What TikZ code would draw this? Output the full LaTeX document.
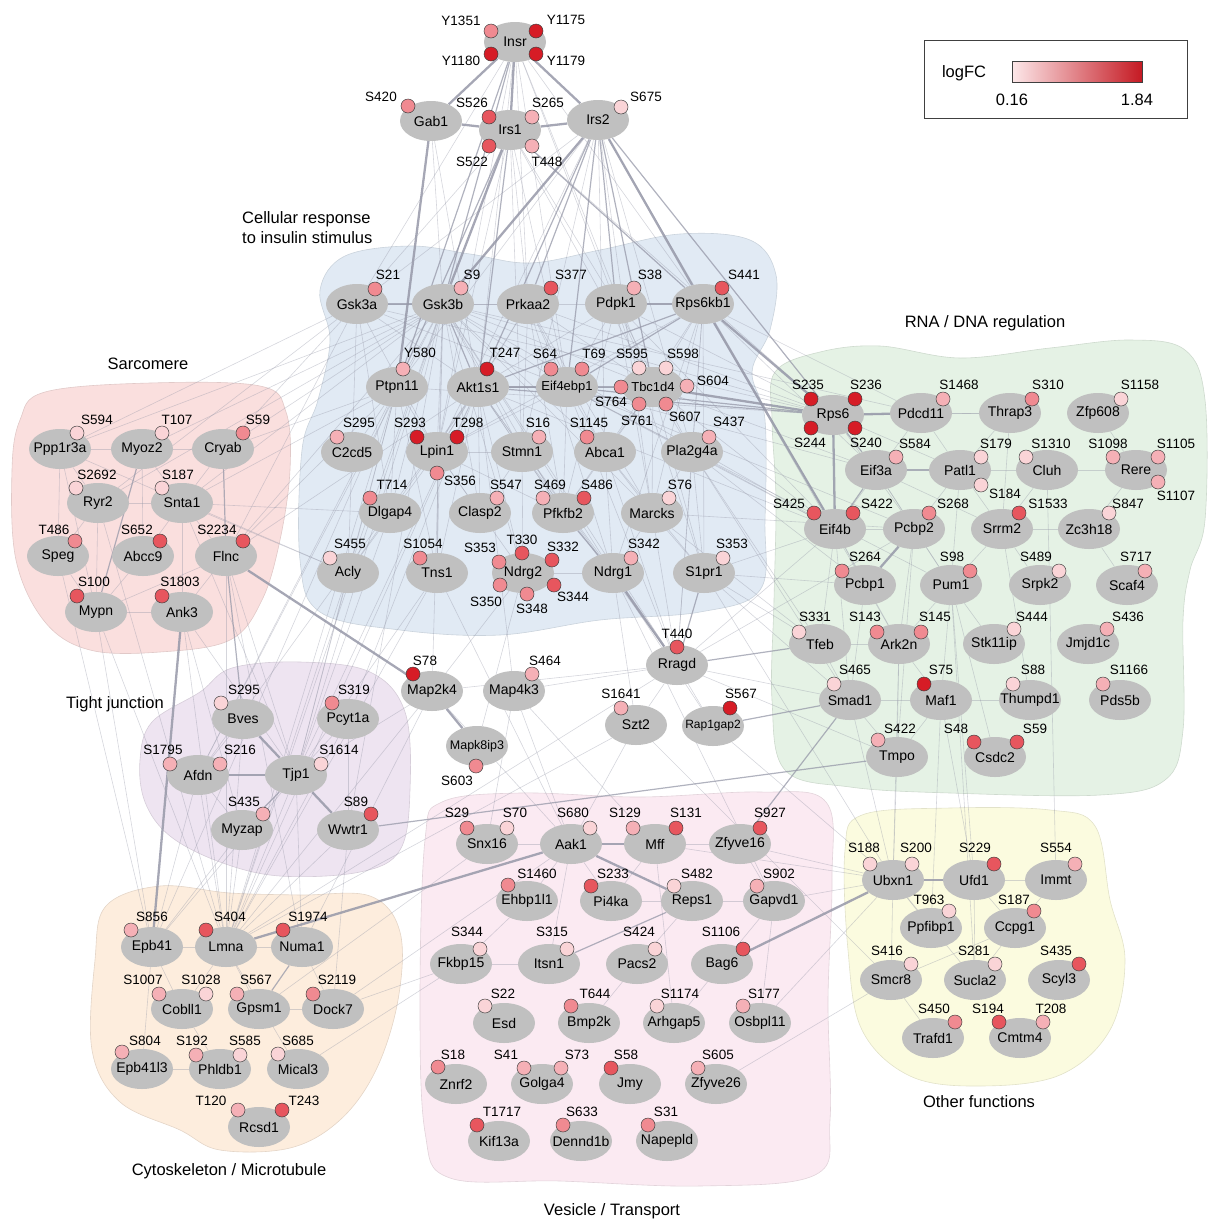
\documentclass[tikz,border=0pt]{standalone}
\usepackage{fontspec}
\setmainfont{Liberation Sans}
\usetikzlibrary{shapes.geometric}
\pgfdeclarelayer{blobs}
\pgfdeclarelayer{edges}
\pgfsetlayers{blobs,edges,main}
\definecolor{pA}{RGB}{250,212,215}
\definecolor{pB}{RGB}{245,176,182}
\definecolor{pC}{RGB}{240,138,145}
\definecolor{pD}{RGB}{231,86,94}
\definecolor{pE}{RGB}{214,28,38}
\definecolor{protgray}{RGB}{192,192,192}
\definecolor{edgec}{RGB}{150,152,168}
\definecolor{blueBg}{RGB}{225,234,244}
\definecolor{greenBg}{RGB}{229,242,229}
\definecolor{redBg}{RGB}{250,223,222}
\definecolor{purpleBg}{RGB}{238,228,241}
\definecolor{orangeBg}{RGB}{253,237,221}
\definecolor{pinkBg}{RGB}{251,234,242}
\definecolor{yellowBg}{RGB}{251,251,223}
\tikzset{
  prot/.style={ellipse, fill=protgray, minimum width=62pt, minimum height=40pt, inner sep=0pt, font=\fontsize{14}{16}\selectfont},
  site/.style={circle, draw=black!75, line width=0.5pt, minimum size=14pt, inner sep=0pt},
  slab/.style={font=\fontsize{13.5}{15}\selectfont, inner sep=0pt},
  ttl/.style={font=\fontsize{16.5}{20}\selectfont, inner sep=0pt},
  ethin/.style={draw=edgec, line width=0.6pt, opacity=0.4},
  emid/.style={draw=edgec, line width=1.2pt, opacity=0.75},
  ethick/.style={draw=edgec, line width=2.3pt, opacity=0.85},
  blob/.style={line width=0.6pt}
}
\newcommand\prt[2]{\node[prot] (#1) at (#2) {\makebox[0pt]{#1}};}
\newcommand\st[5]{\node[site,fill=#3] (#1) at (#2) {}; \node[slab] (#1l) at (#4) {#5};}
\begin{document}
\begin{tikzpicture}[x=1pt,y=-1pt]
\useasboundingbox (0,0) rectangle (1208,1219);
% ---------------- cluster backgrounds
\begin{pgfonlayer}{blobs}
\draw[blob, fill=blueBg, draw=blueBg!90!black] plot[smooth cycle, tension=0.6] coordinates {(320,290) (345,256) (410,246) (470,254) (530,263) (600,250) (680,234) (750,240) (776,275) (770,330) (752,372) (765,420) (765,520) (760,590) (700,612) (600,620) (500,635) (400,630) (320,612) (300,560) (302,450) (318,400) (330,340)};
\draw[blob, fill=greenBg, draw=greenBg!90!black] plot[smooth cycle, tension=0.6] coordinates {(775,372) (820,352) (880,346) (960,358) (1050,348) (1130,340) (1185,350) (1205,400) (1205,520) (1190,570) (1183,620) (1183,730) (1165,780) (1100,795) (950,793) (850,787) (785,770) (772,700) (774,600) (776,500) (772,420)};
\draw[blob, fill=redBg, draw=redBg!90!black] plot[smooth cycle, tension=0.6] coordinates {(20,420) (45,392) (150,383) (260,386) (286,412) (290,470) (280,540) (262,600) (230,640) (160,652) (90,650) (45,622) (16,560) (12,470)};
\draw[blob, fill=purpleBg, draw=purpleBg!90!black] plot[smooth cycle, tension=0.6] coordinates {(140,760) (152,722) (200,692) (232,668) (300,662) (370,672) (405,712) (410,790) (400,850) (360,872) (280,876) (220,862) (170,836) (145,802)};
\draw[blob, fill=orangeBg, draw=orangeBg!90!black] plot[smooth cycle, tension=0.6] coordinates {(95,960) (106,906) (160,886) (230,893) (300,895) (370,896) (400,932) (398,1000) (376,1070) (340,1120) (290,1148) (220,1150) (180,1130) (120,1102) (92,1050)};
\draw[blob, fill=pinkBg, draw=pinkBg!90!black] plot[smooth cycle, tension=0.6] coordinates {(425,840) (442,802) (520,793) (640,797) (760,792) (826,802) (832,880) (828,1000) (830,1120) (815,1175) (700,1186) (560,1181) (450,1178) (425,1132) (420,1000)};
\draw[blob, fill=yellowBg, draw=yellowBg!90!black] plot[smooth cycle, tension=0.6] coordinates {(845,850) (862,815) (950,808) (1050,810) (1095,826) (1110,900) (1125,960) (1110,1030) (1060,1075) (980,1086) (910,1076) (862,1030) (848,950)};
\end{pgfonlayer}
% ---------------- titles
\node[ttl, align=left, anchor=west] (tIns) at (242,228) {Cellular response\\to insulin stimulus};
\node[ttl] (tSar) at (148,364) {Sarcomere};
\node[ttl] (tTig) at (115,704) {Tight junction};
\node[ttl] (tCyt) at (229,1171) {Cytoskeleton / Microtubule};
\node[ttl] (tRna) at (985,323) {RNA / DNA regulation};
\node[ttl] (tVes) at (612,1211) {Vesicle / Transport};
\node[ttl] (tOth) at (979,1102) {Other functions};
% ---------------- legend
\draw[black!75, line width=1pt] (924,40) rectangle (1187,118);
\shade[left color=pA!55!white, right color=pE!92!black] (1012,61) rectangle (1142,82);
\draw[black!75, line width=0.8pt] (1012,61) rectangle (1142,82);
\node[ttl] (lgT) at (964,73) {logFC};
\node[ttl] (lgA) at (1012,100) {0.16};
\node[ttl] (lgB) at (1137,100) {1.84};
% ---------------- top
\prt{Insr}{515,42}
\st{InsrY1351}{491,31}{pC}{461,21}{Y1351}
\st{InsrY1175}{536,31}{pE}{566,20}{Y1175}
\st{InsrY1180}{491,54}{pE}{461,61}{Y1180}
\st{InsrY1179}{536,54}{pE}{566,61}{Y1179}
\prt{Gab1}{431,121}
\st{GabS420}{408,106}{pC}{381,97}{S420}
\prt{Irs1}{510,130}
\st{IrsS526}{489,117}{pD}{472,103}{S526}
\st{IrsS265}{532,117}{pB}{548,103}{S265}
\st{IrsS522}{489,146}{pD}{472,162}{S522}
\st{IrsT448}{532,146}{pB}{547,162}{T448}
\prt{Irs2}{598,120}
\st{IrsS675}{621,107}{pA}{646,97}{S675}
% ---------------- insulin cluster
\prt{Gsk3a}{357,304}
\st{GskaS21}{375,289}{pC}{388,275}{S21}
\prt{Gsk3b}{443,304}
\st{GskbS9}{461,288}{pB}{472,275}{S9}
\prt{Prkaa2}{528,304}
\st{PrkS377}{551,288}{pD}{571,275}{S377}
\prt{Pdpk1}{616,304}
\st{PdpS38}{634,288}{pB}{650,275}{S38}
\prt{Rps6kb1}{703,304}
\st{RpkS441}{722,288}{pD}{744,275}{S441}
\prt{Ptpn11}{397,387}
\st{PtpY580}{403,369}{pB}{420,353}{Y580}
\prt{Akt1s1}{478,387}
\st{AktT247}{487,369}{pE}{505,353}{T247}
\node[prot] (Eif4ebp1) at (567,387) {\makebox[0pt]{\fontsize{13}{15}\selectfont Eif4ebp1}};
\st{EifS64}{551,369}{pC}{545,354}{S64}
\st{EifT69}{582,369}{pC}{594,354}{T69}
\node[prot] (Tbc1d4) at (653,387) {\makebox[0pt]{\fontsize{13}{15}\selectfont Tbc1d4}};
\st{TbcS595}{639,368}{pA}{632,354}{S595}
\st{TbcS598}{666,368}{pA}{683,354}{S598}
\st{TbcS764}{621,387}{pC}{611,402}{S764}
\st{TbcS604}{687,386}{pB}{713,381}{S604}
\st{TbcS761}{639,404}{pC}{637,421}{S761}
\st{TbcS607}{666,404}{pC}{685,417}{S607}
\prt{C2cd5}{352,452}
\st{CcdS295}{337,437}{pB}{359,423}{S295}
\prt{Lpin1}{437,452}
\st{LpiS293}{417,437}{pE}{410,423}{S293}
\st{LpiT298}{457,437}{pE}{468,423}{T298}
\st{LpiS356}{437,473}{pC}{460,481}{S356}
\prt{Stmn1}{522,452}
\st{StmS16}{539,437}{pB}{538,423}{S16}
\prt{Abca1}{605,452}
\st{AbcS1145}{587,437}{pC}{589,423}{S1145}
\prt{Pla2g4a}{692,452}
\st{PlaS437}{709,437}{pB}{729,422}{S437}
\prt{Dlgap4}{390,513}
\st{DlgT714}{370,498}{pC}{392,485}{T714}
\prt{Clasp2}{480,513}
\st{ClaS547}{497,498}{pB}{506,485}{S547}
\prt{Pfkfb2}{563,513}
\st{PfkS469}{543,498}{pB}{550,485}{S469}
\st{PfkS486}{584,498}{pD}{597,485}{S486}
\prt{Marcks}{652,513}
\st{MarS76}{669,498}{pA}{680,485}{S76}
\prt{Acly}{348,573}
\st{AclS455}{330,558}{pA}{350,544}{S455}
\prt{Tns1}{437,573}
\st{TnsS1054}{420,558}{pC}{423,544}{S1054}
\prt{Ndrg2}{523,573}
\st{NdbS353}{499,562}{pC}{480,548}{S353}
\st{NdbT330}{522,553}{pD}{522,540}{T330}
\st{NdbS332}{552,560}{pD}{563,547}{S332}
\st{NdbS344}{554,585}{pD}{573,597}{S344}
\st{NdbS348}{527,594}{pC}{532,609}{S348}
\st{NdbS350}{500,585}{pC}{486,602}{S350}
\prt{Ndrg1}{613,573}
\st{NdaS342}{631,558}{pB}{644,544}{S342}
\prt{S1pr1}{704,573}
\st{SprS353}{723,558}{pA}{732,544}{S353}
% ---------------- middle
\prt{Rragd}{677,665}
\st{RraT440}{677,647}{pD}{677,634}{T440}
\prt{Map2k4}{432,691}
\st{MapS78}{413,674}{pE}{425,661}{S78}
\prt{Map4k3}{514,691}
\st{MakS464}{532,674}{pB}{545,661}{S464}
\prt{Szt2}{636,725}
\st{SztS1641}{621,708}{pB}{621,694}{S1641}
\node[prot] (Rap1gap2) at (713,726) {\makebox[0pt]{\fontsize{12}{14}\selectfont Rap1gap2}};
\st{RapS567}{730,708}{pE}{741,694}{S567}
\node[prot] (Mapk8ip3) at (477,746) {\makebox[0pt]{\fontsize{12.5}{14}\selectfont Mapk8ip3}};
\st{MkiS603}{476,766}{pC}{457,781}{S603}
% ---------------- sarcomere
\prt{Ppp1r3a}{60,449}
\st{PppS594}{77,433}{pA}{97,420}{S594}
\prt{Myoz2}{142,449}
\st{MyoT107}{162,433}{pA}{177,420}{T107}
\prt{Cryab}{223,449}
\st{CryS59}{243,433}{pC}{258,420}{S59}
\prt{Ryr2}{98,503}
\st{RyrS2692}{76,488}{pA}{97,475}{S2692}
\prt{Snta1}{182,503}
\st{SntS187}{162,488}{pA}{178,475}{S187}
\prt{Speg}{58,556}
\st{SpeT486}{75,541}{pC}{54,530}{T486}
\prt{Abcc9}{143,556}
\st{AbcS652}{160,541}{pD}{137,530}{S652}
\prt{Flnc}{226,556}
\st{FlnS2234}{243,541}{pD}{217,530}{S2234}
\prt{Mypn}{96,612}
\st{MypS100}{77,596}{pD}{94,582}{S100}
\prt{Ank3}{182,612}
\st{AnkS1803}{162,596}{pD}{180,582}{S1803}
% ---------------- tight junction
\prt{Bves}{243,719}
\st{BveS295}{221,703}{pA}{244,690}{S295}
\prt{Pcyt1a}{348,719}
\st{PcyS319}{332,703}{pC}{354,690}{S319}
\prt{Afdn}{198,775}
\st{AfdS1795}{170,764}{pB}{163,750}{S1795}
\st{AfdS216}{220,764}{pB}{240,750}{S216}
\prt{Tjp1}{296,775}
\st{TjpS1614}{321,764}{pA}{339,750}{S1614}
\prt{Myzap}{242,830}
\st{MyzS435}{263,814}{pB}{244,802}{S435}
\prt{Wwtr1}{348,830}
\st{WwtS89}{371,814}{pD}{356,802}{S89}
% ---------------- cytoskeleton
\prt{Epb41}{152,947}
\st{EpbS856}{131,930}{pB}{152,917}{S856}
\prt{Lmna}{226,947}
\st{LmnS404}{206,930}{pD}{230,917}{S404}
\prt{Numa1}{302,947}
\st{NumS1974}{283,930}{pD}{308,917}{S1974}
\prt{Cobll1}{182,1009}
\st{CobS1007}{159,994}{pB}{143,980}{S1007}
\st{CobS1028}{206,994}{pA}{201,980}{S1028}
\prt{Gpsm1}{259,1009}
\st{GpsS567}{237,994}{pB}{256,980}{S567}
\prt{Dock7}{333,1009}
\st{DocS2119}{313,994}{pC}{337,980}{S2119}
\prt{Epb41l3}{142,1069}
\st{ElS804}{122,1052}{pB}{145,1041}{S804}
\prt{Phldb1}{220,1069}
\st{PhlS192}{196,1055}{pB}{192,1041}{S192}
\st{PhlS585}{240,1055}{pA}{245,1041}{S585}
\prt{Mical3}{298,1069}
\st{MicS685}{278,1054}{pA}{298,1041}{S685}
\prt{Rcsd1}{259,1127}
\st{RcsT120}{238,1110}{pB}{211,1101}{T120}
\st{RcsT243}{282,1110}{pD}{304,1101}{T243}
% ---------------- vesicle
\prt{Snx16}{487,844}
\st{SnxS29}{467,828}{pC}{457,813}{S29}
\st{SnxS70}{507,828}{pA}{515,813}{S70}
\prt{Aak1}{571,844}
\st{AakS680}{590,828}{pA}{573,813}{S680}
\prt{Mff}{655,844}
\st{MffS129}{633,828}{pB}{625,813}{S129}
\st{MffS131}{676,828}{pD}{686,813}{S131}
\prt{Zfyve16}{740,844}
\st{ZfsS927}{760,828}{pD}{770,813}{S927}
\prt{Ehbp1l1}{527,901}
\st{EhbS1460}{508,885}{pC}{537,874}{S1460}
\prt{Pi4ka}{611,901}
\st{PikS233}{591,886}{pD}{613,874}{S233}
\prt{Reps1}{692,901}
\st{RepS482}{674,886}{pA}{697,874}{S482}
\prt{Gapvd1}{774,901}
\st{GapS902}{757,886}{pB}{779,874}{S902}
\prt{Fkbp15}{461,964}
\st{FkbS344}{480,949}{pA}{467,932}{S344}
\prt{Itsn1}{549,964}
\st{ItsS315}{567,949}{pA}{552,932}{S315}
\prt{Pacs2}{637,964}
\st{PacS424}{655,949}{pA}{639,932}{S424}
\prt{Bag6}{722,964}
\st{BagS1106}{743,949}{pD}{721,932}{S1106}
\prt{Esd}{504,1023}
\st{EsdS22}{485,1006}{pA}{503,994}{S22}
\prt{Bmp2k}{589,1023}
\st{BmpT644}{571,1006}{pC}{595,994}{T644}
\prt{Arhgap5}{674,1023}
\st{ArhS1174}{657,1006}{pA}{680,994}{S1174}
\prt{Osbpl11}{760,1023}
\st{OsbS177}{743,1006}{pB}{764,994}{S177}
\prt{Znrf2}{456,1084}
\st{ZnrS18}{438,1067}{pC}{453,1055}{S18}
\prt{Golga4}{542,1084}
\st{GolS41}{524,1068}{pB}{506,1055}{S41}
\st{GolS73}{561,1068}{pB}{577,1055}{S73}
\prt{Jmy}{630,1084}
\st{JmyS58}{611,1068}{pD}{626,1055}{S58}
\prt{Zfyve26}{716,1084}
\st{ZftS605}{698,1068}{pB}{718,1055}{S605}
\prt{Kif13a}{499,1141}
\st{KifT1717}{477,1125}{pD}{502,1112}{T1717}
\prt{Dennd1b}{581,1141}
\st{DenS633}{563,1125}{pC}{582,1112}{S633}
\prt{Napepld}{667,1141}
\st{NapS31}{648,1125}{pC}{666,1112}{S31}
% ---------------- other functions
\prt{Ubxn1}{893,880}
\st{UbxS188}{870,864}{pA}{864,848}{S188}
\st{UbxS200}{912,864}{pA}{916,848}{S200}
\prt{Ufd1}{974,880}
\st{UfdS229}{994,864}{pD}{975,848}{S229}
\prt{Immt}{1056,880}
\st{ImmS554}{1075,864}{pB}{1056,848}{S554}
\prt{Ppfibp1}{931,928}
\st{PpfT963}{949,911}{pA}{929,900}{T963}
\prt{Ccpg1}{1015,928}
\st{CcpS187}{1034,911}{pC}{1014,900}{S187}
\prt{Smcr8}{891,980}
\st{SmcS416}{911,964}{pA}{887,951}{S416}
\prt{Sucla2}{975,980}
\st{SucS281}{995,964}{pA}{974,951}{S281}
\prt{Scyl3}{1059,980}
\st{ScyS435}{1079,964}{pD}{1056,951}{S435}
\prt{Trafd1}{933,1038}
\st{TraS450}{955,1022}{pC}{934,1009}{S450}
\prt{Cmtm4}{1020,1038}
\st{CmtS194}{999,1022}{pD}{988,1009}{S194}
\st{CmtT208}{1043,1022}{pB}{1051,1009}{T208}
% ---------------- RNA / DNA
\prt{Rps6}{833,415}
\st{RpsS235}{811,399}{pE}{808,385}{S235}
\st{RpsS236}{855,399}{pE}{866,385}{S236}
\st{RpsS244}{811,428}{pE}{810,443}{S244}
\st{RpsS240}{855,428}{pE}{866,443}{S240}
\prt{Pdcd11}{921,413}
\st{PdcS1468}{943,399}{pB}{959,385}{S1468}
\prt{Thrap3}{1010,413}
\st{ThrS310}{1032,399}{pC}{1048,385}{S310}
\prt{Zfp608}{1098,413}
\st{ZfpS1158}{1121,399}{pA}{1140,385}{S1158}
\prt{Eif3a}{876,470}
\st{EiaS584}{896,457}{pB}{915,444}{S584}
\prt{Patl1}{960,470}
\st{PatS179}{981,457}{pA}{996,444}{S179}
\st{PatS184}{981,485}{pA}{1005,494}{S184}
\prt{Cluh}{1047,470}
\st{CluS1310}{1026,457}{pA}{1051,444}{S1310}
\prt{Rere}{1136,470}
\st{RerS1098}{1113,457}{pB}{1108,444}{S1098}
\st{RerS1105}{1158,457}{pB}{1176,444}{S1105}
\st{RerS1107}{1158,482}{pB}{1176,496}{S1107}
\prt{Eif4b}{835,529}
\st{EibS425}{814,513}{pD}{789,504}{S425}
\st{EibS422}{853,513}{pD}{877,504}{S422}
\prt{Pcbp2}{914,529}
\st{PcbS268}{929,513}{pC}{953,504}{S268}
\prt{Srrm2}{1002,529}
\st{SrrS1533}{1019,513}{pD}{1048,504}{S1533}
\prt{Zc3h18}{1089,529}
\st{ZchS847}{1109,513}{pA}{1128,504}{S847}
\prt{Pcbp1}{865,585}
\st{PcaS264}{842,571}{pC}{865,557}{S264}
\prt{Pum1}{951,585}
\st{PumS98}{970,571}{pC}{952,557}{S98}
\prt{Srpk2}{1040,585}
\st{SrpS489}{1059,571}{pA}{1036,557}{S489}
\prt{Scaf4}{1127,585}
\st{ScaS717}{1145,571}{pB}{1136,557}{S717}
\prt{Tfeb}{820,644}
\st{TfeS331}{799,632}{pA}{815,617}{S331}
\prt{Ark2n}{899,644}
\st{ArkS143}{877,632}{pC}{865,617}{S143}
\st{ArkS145}{921,632}{pC}{935,617}{S145}
\prt{Stk11ip}{994,644}
\st{StkS444}{1014,629}{pA}{1032,617}{S444}
\prt{Jmjd1c}{1088,644}
\st{JmjS436}{1107,629}{pB}{1128,617}{S436}
\prt{Smad1}{850,700}
\st{SmaS465}{834,684}{pA}{855,670}{S465}
\prt{Maf1}{941,700}
\st{MafS75}{924,684}{pE}{941,670}{S75}
\prt{Thumpd1}{1030,700}
\st{ThuS88}{1013,684}{pA}{1033,670}{S88}
\prt{Pds5b}{1120,700}
\st{PdsS1166}{1103,684}{pB}{1129,670}{S1166}
\prt{Tmpo}{897,757}
\st{TmpS422}{878,740}{pB}{900,729}{S422}
\prt{Csdc2}{995,757}
\st{CsdS48}{974,742}{pD}{956,729}{S48}
\st{CsdS59}{1017,742}{pD}{1035,729}{S59}
% ---------------- connectors
\begin{pgfonlayer}{edges}
\foreach \a/\b in {Insr/Gab1, Insr/Irs1, Insr/Irs2, Gab1/Irs1, Irs1/Irs2, Gab1/Ptpn11, Irs2/Gsk3b, Irs2/Rps6kb1, Irs1/Gsk3b, Pdpk1/Rps6kb1, Rps6kb1/Rps6, Rps6kb1/Eif4b, Akt1s1/Eif4ebp1, Tbc1d4/Rps6, Rps6/Pdcd11, Rps6/Eif4b, Pcbp2/Pcbp1, Ndrg1/Rragd, Flnc/Map2k4, Map2k4/Mapk8ip3, Ank3/Epb41, Bves/Tjp1, Afdn/Tjp1, Tjp1/Wwtr1, Lmna/Aak1, Aak1/Mff, Aak1/Reps1, Ubxn1/Ufd1, Ubxn1/Bag6}
  \draw[ethick] (\a) -- (\b);
\foreach \a/\b in {Irs2/Akt1s1, Irs2/Prkaa2, Irs2/Pdpk1, Irs2/Eif4ebp1, Irs2/Tbc1d4, Irs2/Rps6, Irs1/Akt1s1, Irs1/Rps6kb1, Irs1/Ptpn11, Gsk3a/Gsk3b, Rps6kb1/Akt1s1, Rps6kb1/Eif4ebp1, Eif4ebp1/Tbc1d4, Rps6/Eif3a, Eif4b/Eif3a, Eif3a/Patl1, S1pr1/Rragd, Rragd/Tfeb, Pfkfb2/Ndrg1, Cryab/Flnc, Flnc/Bves, Myoz2/Mypn, Tjp1/Myzap, Numa1/Gpsm1, Wwtr1/Tmpo, Reps1/Itsn1, Smad1/Zfyve16, Rap1gap2/Smad1, Gsk3b/Akt1s1, Akt1s1/Rps6, Eif4ebp1/Rps6, Insr/Gsk3b, Insr/Ptpn11}
  \draw[emid] (\a) -- (\b);
\foreach \a/\b in {Insr/Gsk3a, Insr/Akt1s1, Insr/Prkaa2, Insr/Pdpk1, Insr/Rps6kb1, Insr/Eif4ebp1, Insr/Tbc1d4, Insr/Lpin1, Gab1/Gsk3b, Gab1/Akt1s1, Irs1/Gsk3a, Irs1/Prkaa2, Irs1/Pdpk1, Irs1/Eif4ebp1, Irs1/Tbc1d4, Irs1/Rps6, Irs1/Lpin1, Irs1/Stmn1, Irs2/Gsk3a, Irs2/Ptpn11, Irs2/Lpin1, Irs2/Abca1, Irs2/Pla2g4a, Irs2/Eif4b, Irs2/Stmn1, Irs2/Marcks, Gsk3b/Prkaa2, Gsk3b/Ptpn11, Gsk3b/Lpin1, Gsk3b/Stmn1, Gsk3b/Abca1, Gsk3b/Eif4ebp1, Gsk3b/Tbc1d4, Gsk3b/Dlgap4, Gsk3b/Clasp2, Gsk3b/Pfkfb2, Gsk3b/Marcks, Gsk3b/Acly, Gsk3b/Tns1, Gsk3b/Ndrg2, Gsk3b/Ndrg1, Gsk3b/Rps6, Gsk3b/Eif4b, Gsk3b/Snta1, Gsk3b/Ppp1r3a, Gsk3b/Ryr2, Gsk3b/Myoz2, Gsk3b/Flnc, Gsk3b/Lmna, Gsk3b/Tjp1, Gsk3b/Afdn, Gsk3b/Map2k4, Gsk3b/Rragd, Gsk3a/Prkaa2, Gsk3a/Akt1s1, Gsk3a/Lpin1, Gsk3a/Eif4ebp1, Gsk3a/Cryab, Gsk3a/Flnc, Gsk3a/Ryr2, Gsk3a/Ppp1r3a, Gsk3a/Dlgap4, Gsk3a/Acly, Prkaa2/Pdpk1, Prkaa2/Akt1s1, Prkaa2/Eif4ebp1, Prkaa2/Tbc1d4, Prkaa2/Lpin1, Prkaa2/Stmn1, Prkaa2/Pfkfb2, Prkaa2/Abca1, Prkaa2/Rps6, Prkaa2/Marcks, Prkaa2/Ndrg1, Pdpk1/Akt1s1, Pdpk1/Eif4ebp1, Pdpk1/Tbc1d4, Pdpk1/Rps6, Pdpk1/Pla2g4a, Pdpk1/Pfkfb2, Pdpk1/S1pr1, Pdpk1/Marcks, Pdpk1/Eif4b, Rps6kb1/Tbc1d4, Rps6kb1/Pla2g4a, Rps6kb1/Marcks, Rps6kb1/S1pr1, Rps6kb1/Eif3a, Rps6kb1/Pcbp1, Rps6kb1/Rragd, Rps6kb1/Lpin1, Rps6kb1/Abca1, Rps6kb1/Pdcd11, Rps6kb1/Ndrg1, Akt1s1/Tbc1d4, Akt1s1/Lpin1, Akt1s1/Stmn1, Akt1s1/Clasp2, Akt1s1/Pfkfb2, Akt1s1/Ndrg2, Akt1s1/Tns1, Akt1s1/Ndrg1, Akt1s1/Acly, Akt1s1/Flnc, Akt1s1/Lmna, Akt1s1/Afdn, Akt1s1/Tjp1, Akt1s1/Rragd, Akt1s1/Map4k3, Akt1s1/Eif4b, Eif4ebp1/Lpin1, Eif4ebp1/Abca1, Eif4ebp1/Pla2g4a, Eif4ebp1/Eif4b, Eif4ebp1/Eif3a, Eif4ebp1/Pcbp2, Eif4ebp1/Pfkfb2, Eif4ebp1/Rragd, Eif4ebp1/Pum1, Tbc1d4/Pla2g4a, Tbc1d4/Eif4b, Tbc1d4/Eif3a, Tbc1d4/Pfkfb2, Tbc1d4/Abca1, Tbc1d4/Marcks, Tbc1d4/S1pr1, Ptpn11/Lpin1, Ptpn11/Dlgap4, Ptpn11/Acly, Ptpn11/Tns1, Ptpn11/C2cd5, Ptpn11/Afdn, Ptpn11/Tjp1, Ptpn11/Epb41, Ptpn11/Lmna, Ptpn11/Flnc, Ptpn11/Snta1, Lpin1/Acly, Lpin1/Tns1, Lpin1/Ndrg2, Lpin1/Stmn1, Lpin1/Clasp2, Lpin1/Pfkfb2, Stmn1/Pfkfb2, Stmn1/Ndrg2, Stmn1/Rragd, Stmn1/Clasp2, Abca1/Pfkfb2, Abca1/Marcks, Abca1/Ndrg1, Abca1/S1pr1, Abca1/Rragd, Pla2g4a/Marcks, Pla2g4a/S1pr1, Pla2g4a/Rragd, Pla2g4a/Eif4b, Pla2g4a/Tfeb, Pla2g4a/Smad1, Pla2g4a/Pcbp1, Marcks/S1pr1, Marcks/Rragd, Marcks/Ndrg1, Marcks/Tfeb, Marcks/Pcbp2, S1pr1/Eif4b, S1pr1/Pcbp1, S1pr1/Tfeb, S1pr1/Smad1, Ndrg2/Ndrg1, Ndrg2/Map2k4, Ndrg2/Mapk8ip3, Acly/Lmna, Acly/Tjp1, Acly/Ppp1r3a, Acly/Snta1, Dlgap4/Snta1, Dlgap4/Tjp1, Tns1/Lmna, Tns1/Tjp1, Tns1/Aak1, Ndrg1/Szt2, Ndrg1/Rap1gap2, Ndrg1/Gapvd1, Rragd/Szt2, Rragd/Map4k3, Rragd/Rap1gap2, Rragd/Eif4b, Rragd/Smad1, Rragd/Map2k4, Rragd/Lmna, Rragd/Tmpo, Rragd/Pcbp2, Map2k4/Tjp1, Map2k4/Lmna, Map2k4/Aak1, Map2k4/Numa1, Map4k3/Snx16, Map4k3/Aak1, Map4k3/Mff, Szt2/Lmna, Szt2/Smcr8, Szt2/Aak1, Rap1gap2/Ubxn1, S1pr1/Ubxn1, Ppp1r3a/Myoz2, Myoz2/Cryab, Myoz2/Snta1, Ryr2/Snta1, Ryr2/Ppp1r3a, Ryr2/Speg, Ryr2/Mypn, Snta1/Abcc9, Snta1/Flnc, Snta1/Ank3, Cryab/Snta1, Abcc9/Mypn, Flnc/Mypn, Flnc/Ank3, Mypn/Ank3, Speg/Mypn, Myoz2/Abcc9, Ppp1r3a/Speg, Ppp1r3a/Mypn, Ank3/Lmna, Ank3/Tjp1, Ank3/Myzap, Mypn/Lmna, Mypn/Epb41, Flnc/Tjp1, Flnc/Lmna, Flnc/Numa1, Speg/Epb41, Ryr2/Lmna, Snta1/Tjp1, Cryab/Gsk3b, Cryab/Ptpn11, Bves/Afdn, Afdn/Myzap, Afdn/Epb41, Afdn/Lmna, Tjp1/Lmna, Tjp1/Numa1, Tjp1/Epb41, Pcyt1a/Tjp1, Pcyt1a/Wwtr1, Pcyt1a/Lmna, Wwtr1/Lmna, Wwtr1/Dock7, Bves/Lmna, Pcyt1a/Akt1s1, Wwtr1/Gsk3b, Myzap/Lmna, Myzap/Epb41, Epb41/Lmna, Lmna/Numa1, Epb41/Cobll1, Lmna/Cobll1, Lmna/Gpsm1, Epb41/Epb41l3, Epb41l3/Phldb1, Gpsm1/Dock7, Lmna/Mical3, Numa1/Dock7, Cobll1/Phldb1, Dock7/Aak1, Mical3/Fkbp15, Dock7/Fkbp15, Gpsm1/Snx16, Mff/Zfyve16, Aak1/Pi4ka, Aak1/Ehbp1l1, Aak1/Itsn1, Ehbp1l1/Fkbp15, Fkbp15/Itsn1, Pi4ka/Reps1, Reps1/Gapvd1, Reps1/Pacs2, Pacs2/Bmp2k, Gapvd1/Bag6, Bag6/Arhgap5, Gapvd1/Osbpl11, Zfyve16/Gapvd1, Mff/Pi4ka, Mff/Arhgap5, Zfyve16/Ubxn1, Mff/Ubxn1, Gapvd1/Ubxn1, Osbpl11/Ubxn1, Zfyve26/Smcr8, Snx16/Aak1, Ufd1/Immt, Ubxn1/Ppfibp1, Ubxn1/Sucla2, Ubxn1/Smcr8, Ufd1/Sucla2, Ccpg1/Immt, Ccpg1/Smcr8, Ccpg1/Sucla2, Smcr8/Trafd1, Ufd1/Ccpg1, Ubxn1/Tmpo, Ubxn1/Smad1, Ufd1/Maf1, Immt/Cluh, Ufd1/Pum1, Ubxn1/Ark2n, Sucla2/Pum1, Ppfibp1/Maf1, Pdcd11/Thrap3, Thrap3/Srrm2, Thrap3/Patl1, Zfp608/Rere, Eif3a/Pcbp2, Eif4b/Pcbp2, Eif4b/Pcbp1, Eif3a/Pum1, Patl1/Cluh, Patl1/Srrm2, Patl1/Pum1, Patl1/Pcbp2, Cluh/Srrm2, Srrm2/Zc3h18, Srrm2/Pum1, Srrm2/Srpk2, Zc3h18/Scaf4, Rere/Zc3h18, Pcbp2/Pum1, Pcbp2/Ark2n, Pcbp1/Ark2n, Pum1/Ark2n, Pum1/Maf1, Pum1/Stk11ip, Tfeb/Smad1, Tfeb/Ark2n, Smad1/Maf1, Maf1/Thumpd1, Ark2n/Maf1, Tmpo/Smad1, Csdc2/Pum1, Tmpo/Pcbp2, Rps6/Pcbp2, Rps6/Patl1, Rps6/Thrap3, Eif4b/Tfeb, Eif4b/Smad1, Eif4b/Ark2n, Pdcd11/Eif4b, Eif3a/Srrm2, Cluh/Rere, Pcbp1/Smad1, Pdcd11/Patl1, Gsk3b/Pdcd11, Gsk3a/Rps6, Ptpn11/Rps6, Maf1/Tmpo, Ark2n/Tmpo, Thumpd1/Srrm2}
  \draw[ethin] (\a) -- (\b);
\end{pgfonlayer}
\end{tikzpicture}
\end{document}
